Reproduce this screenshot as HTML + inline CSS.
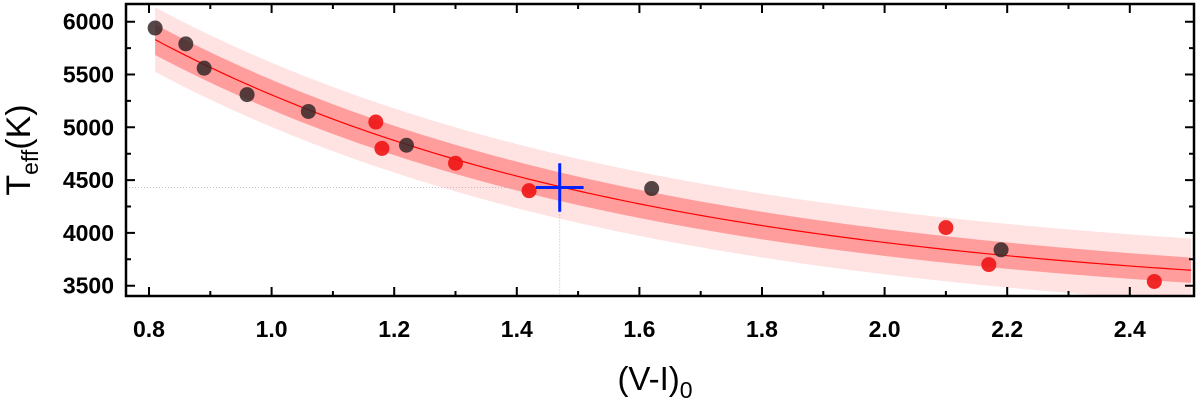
<!DOCTYPE html>
<html><head><meta charset="utf-8"><style>
body{margin:0;background:#fff;}
svg{display:block;font-family:"Liberation Sans",Arial,sans-serif;}
</style></head><body>
<svg id="chart" width="1200" height="401">
<g id="bands"></g>
<g id="guides"></g>
<g id="pts"></g>
<g id="axes"></g>
<text x="30" y="150" font-size="34" text-anchor="middle" transform="rotate(-90 30 150)">T<tspan font-size="23" dy="8">eff</tspan><tspan dy="-8">(K)</tspan></text>
<text x="655" y="390" font-size="33" text-anchor="middle">(V-I)<tspan font-size="23" dy="8">0</tspan></text>
</svg>
<script>
const xTicks=[0.8,1.0,1.2,1.4,1.6,1.8,2.0,2.2,2.4];
const yTicks=[3500,4000,4500,5000,5500,6000];
const ptX=[0.81,0.86,0.89,0.96,1.06,1.17,1.18,1.22,1.30,1.42,1.62,2.10,2.17,2.19,2.44];
const ptY=[5940,5790,5560,5310,5150,5050,4800,4830,4660,4400,4420,4050,3700,3840,3540];
const ptGroup=["d","d","d","d","d","r","r","d","r","r","d","r","r","d","r"];
const fitA=3340, fitB=2490, fitK=1.24, fitX0=0.81, fitXmax=2.5;
const innerHalf=[145,120];
const outerHalf=[305,300];
const target=[1.47,4430];
const targetErrX=0.065, targetErrY=230;

const L=126,R=1194,T=4,B=296;
const X=v=>149+(v-0.8)*613;
const Y=v=>21.7+(6000-v)*0.1056;
const ns="http://www.w3.org/2000/svg";
function mk(tag,attrs,parent){const e=document.createElementNS(ns,tag);for(const k in attrs)e.setAttribute(k,attrs[k]);parent.appendChild(e);return e;}
const fit=x=>fitA+fitB*Math.exp(-fitK*(x-fitX0));
const bands=document.getElementById('bands');
function band(h,fill,name){
  let up=[],dn=[];
  for(let i=0;i<=100;i++){const x=fitX0+(fitXmax-fitX0)*i/100;const t=i/100;const w=h[0]+(h[1]-h[0])*t;
    up.push(X(x)+','+Y(fit(x)+w));dn.unshift(X(x)+','+Y(fit(x)-w));}
  const p=mk('polygon',{points:up.concat(dn).join(' '),fill:fill,'clip-path':'url(#clip)'},bands);
  
  
}
const defs=mk('defs',{},document.getElementById('chart'));
const cp=mk('clipPath',{id:'clip'},defs);mk('rect',{x:L,y:T,width:R-L,height:B-T},cp);
band(outerHalf,'#ffe2e2','outer-band');
band(innerHalf,'#ff9d9d','inner-band');
let line=[];for(let i=0;i<=100;i++){const x=fitX0+(fitXmax-fitX0)*i/100;line.push(X(x)+','+Y(fit(x)));}
const fl=mk('polyline',{points:line.join(' '),fill:'none',stroke:'#f00','stroke-width':1.2,'clip-path':'url(#clip)'},bands);


const g=document.getElementById('guides');
const h1=mk('line',{x1:L,y1:Y(target[1]),x2:X(target[0]),y2:Y(target[1]),stroke:'#aab','stroke-width':0.8,'stroke-dasharray':'1,2'},g);


const v1=mk('line',{x1:X(target[0]),y1:Y(target[1]),x2:X(target[0]),y2:B,stroke:'#aab','stroke-width':0.8,'stroke-dasharray':'1,2'},g);


const pg=document.getElementById('pts');
ptX.forEach((x,i)=>{const c=mk('circle',{cx:X(x),cy:Y(ptY[i]),r:7.5,fill:ptGroup[i]=='d'?'rgba(55,40,40,0.85)':'rgba(240,20,20,0.9)'},pg);
  
  });
const cx=mk('path',{d:`M${X(target[0]-targetErrX*0.6)} ${Y(target[1])}H${X(target[0]+targetErrX*0.6)}M${X(target[0])} ${Y(target[1]+targetErrY)}V${Y(target[1]-targetErrY)}`,stroke:'#0022ff','stroke-width':3,fill:'none'},pg);


const ax=document.getElementById('axes');
const fr=mk('rect',{x:L,y:T,width:R-L,height:B-T,fill:'none',stroke:'#000','stroke-width':2.5},ax);


let d='';
for(let v=0.8;v<=2.5;v+=0.1){const x=X(v);const maj=Math.round(v*10)%2==0;const len=maj?9:5;d+=`M${x} ${B}v${-len}M${x} ${T}v${len}`;}
for(let v=3500;v<=6150;v+=250){const y=Y(v);const len=v%500==0?9:5;d+=`M${L} ${y}h${len}M${R} ${y}h${-len}`;}
mk('path',{d:d,stroke:'#000','stroke-width':2,fill:'none'},ax);
xTicks.forEach(v=>{const t=mk('text',{x:X(v),y:337,'font-size':23,'font-weight':'bold','text-anchor':'middle'},ax);t.textContent=v.toFixed(1);
  
  });
yTicks.forEach(v=>{const t=mk('text',{x:114,y:Y(v)+8,'font-size':23,'font-weight':'bold','text-anchor':'end'},ax);t.textContent=v;
  
  });
</script>
</body></html>
